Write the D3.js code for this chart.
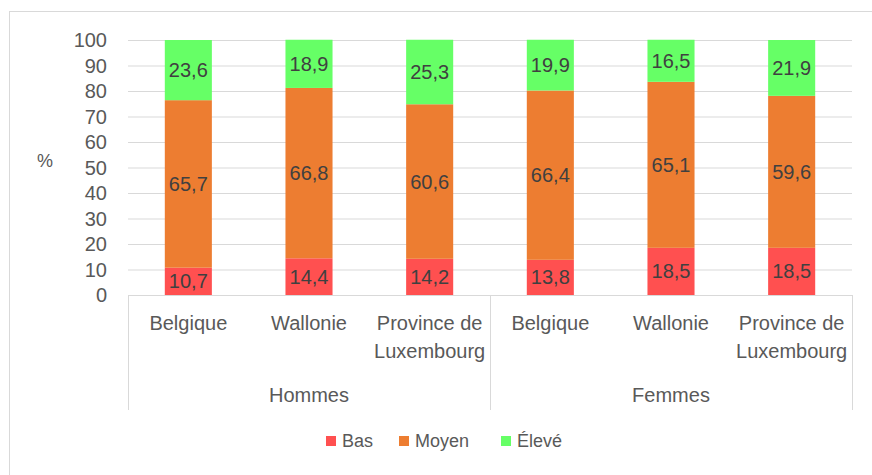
<!DOCTYPE html>
<html>
<head>
<meta charset="utf-8">
<script src="https://cdn.jsdelivr.net/npm/d3@7"></script>
<style>
  body { margin: 0; background: #fff; }
  text { font-family: "Liberation Sans", Arial, sans-serif; }
</style>
</head>
<body>
<div id="container"></div>
<script>
const groups = ["Hommes", "Femmes"];
const regions = ["Belgique", "Wallonie", "Province de|Luxembourg"];
const bas = [10.7, 14.4, 14.2, 13.8, 18.5, 18.5];
const moyen = [65.7, 66.8, 60.6, 66.4, 65.1, 59.6];
const eleve = [23.6, 18.9, 25.3, 19.9, 16.5, 21.9];
const seriesNames = ["Bas", "Moyen", "Élevé"];
const yTicks = [0, 10, 20, 30, 40, 50, 60, 70, 80, 90, 100];

const colors = ["#ff5050", "#ed7d31", "#66ff66"];
const w = 872, h = 475;
const margin = {top: 40, right: 20, bottom: 180, left: 128};
const plotRight = 852, plotBottom = 295;

// rows for the stack
const rows = [];
groups.forEach((g, gi) => regions.forEach((r, ri) => {
    const i = gi * regions.length + ri;
    rows.push({key: g + "-" + ri, group: g, region: r, Bas: bas[i], Moyen: moyen[i], "Élevé": eleve[i]});
}));

const svg = d3.select("#container").append("svg")
    .attr("width", w).attr("height", h);

// chart border
svg.append("rect")
    .attr("x", 9.5).attr("y", 11.5)
    .attr("width", w + 20).attr("height", h + 20)
    .attr("fill", "none").attr("stroke", "#d9d9d9");

const x = d3.scaleBand()
    .domain(rows.map(d => d.key))
    .range([margin.left, plotRight])
    .paddingInner(0.61).paddingOuter(0.305);

const y = d3.scaleLinear().domain([0, 100]).range([plotBottom, margin.top]);

// gridlines
svg.append("g")
    .selectAll("line")
    .data(yTicks.filter(t => t > 0))
    .enter().append("line")
    .attr("x1", margin.left).attr("x2", plotRight)
    .attr("y1", d => y(d) + 0.5).attr("y2", d => y(d) + 0.5)
    .attr("stroke", "#d9d9d9").attr("stroke-width", 1);

// y labels
svg.append("g")
    .selectAll("text")
    .data(yTicks)
    .enter().append("text")
    .attr("x", 107).attr("y", d => y(d))
    .attr("dy", "0.35em")
    .attr("text-anchor", "end")
    .attr("font-size", 20)
    .attr("fill", "#595959")
    .text(d => d);

svg.append("text")
    .attr("x", 45).attr("y", 161)
    .attr("dy", "0.35em")
    .attr("text-anchor", "middle")
    .attr("font-size", 18)
    .attr("fill", "#595959")
    .text("%");

const stack = d3.stack().keys(seriesNames)(rows);

const layer = svg.append("g").selectAll("g")
    .data(stack)
    .enter().append("g")
    .attr("fill", (d, i) => colors[i]);

layer.selectAll("rect")
    .data(d => d)
    .enter().append("rect")
    .attr("x", d => x(d.data.key))
    .attr("width", x.bandwidth())
    .attr("y", d => y(d[1]))
    .attr("height", d => y(d[0]) - y(d[1]));

layer.selectAll("text")
    .data(d => d)
    .enter().append("text")
    .attr("x", d => x(d.data.key) + x.bandwidth() / 2)
    .attr("y", d => y((d[0] + d[1]) / 2))
    .attr("dy", "0.35em")
    .attr("text-anchor", "middle")
    .attr("font-size", 20)
    .attr("fill", "#404040")
    .text(d => d3.format(".1f")(d[1] - d[0]).replace(".", ","));

// x axis baseline and group separators
svg.append("line")
    .attr("x1", margin.left).attr("x2", plotRight)
    .attr("y1", plotBottom + 0.5).attr("y2", plotBottom + 0.5)
    .attr("stroke", "#d9d9d9");

const sepX = [margin.left, (margin.left + plotRight) / 2, plotRight];
svg.append("g").selectAll("line")
    .data(sepX)
    .enter().append("line")
    .attr("x1", d => Math.round(d) + 0.5).attr("x2", d => Math.round(d) + 0.5)
    .attr("y1", plotBottom).attr("y2", 410)
    .attr("stroke", "#d9d9d9");

// category labels
const catText = svg.append("g").selectAll("text")
    .data(rows)
    .enter().append("text")
    .attr("x", d => x(d.key) + x.bandwidth() / 2)
    .attr("y", 323)
    .attr("text-anchor", "middle")
    .attr("font-size", 20)
    .attr("fill", "#595959");

catText.selectAll("tspan")
    .data(d => d.region.split("|"))
    .enter().append("tspan")
    .attr("x", function() { return d3.select(this.parentNode).attr("x"); })
    .attr("dy", (d, i) => i === 0 ? "0.35em" : "1.4em")
    .text(d => d);

// group labels
svg.append("g").selectAll("text")
    .data(groups)
    .enter().append("text")
    .attr("x", (d, i) => (sepX[i] + sepX[i + 1]) / 2)
    .attr("y", 395)
    .attr("dy", "0.35em")
    .attr("text-anchor", "middle")
    .attr("font-size", 20)
    .attr("fill", "#595959")
    .text(d => d);

// legend
const legendX = [326, 399, 501];
const legend = svg.append("g").selectAll("g")
    .data(seriesNames)
    .enter().append("g")
    .attr("transform", (d, i) => "translate(" + legendX[i] + ",441)");

legend.append("rect")
    .attr("x", 0).attr("y", -5)
    .attr("width", 10).attr("height", 10)
    .attr("fill", (d, i) => colors[i]);

legend.append("text")
    .attr("x", 16).attr("y", 0)
    .attr("dy", "0.35em")
    .attr("font-size", 18)
    .attr("fill", "#595959")
    .text(d => d);
</script>
</body>
</html>
